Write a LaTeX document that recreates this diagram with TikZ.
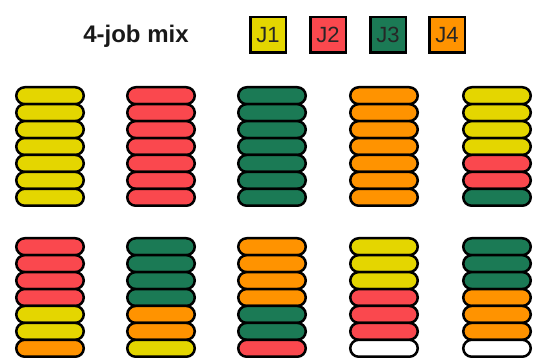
\documentclass[tikz,border=0pt]{standalone}
\usepackage{fontspec}
\setmainfont{Liberation Sans}
\usetikzlibrary{shapes.misc}
\definecolor{jy}{RGB}{228,214,0}
\definecolor{jr}{RGB}{250,72,78}
\definecolor{jg}{RGB}{27,122,85}
\definecolor{jo}{RGB}{255,147,0}
\definecolor{jw}{RGB}{255,255,255}
\newcommand\pillstack[4]{%
  \foreach \cl [count=\i] in {#4} {\node[pill,fill=\cl] (#1-\i) at (#2,{#3+16.93*(\i-1)}) {};}}
\begin{document}
\begin{tikzpicture}[x=1pt,y=-1pt,
  pill/.style={rounded rectangle, draw=black, line width=2.5pt, minimum width=67.5pt, minimum height=16.93pt, inner sep=0pt},
  legbox/.style={draw=black, line width=2.5pt, minimum size=35.5pt, inner sep=0pt, text=black!85, font=\fontsize{22}{24}\selectfont},
  title/.style={font=\bfseries\fontsize{24}{26}\selectfont, text=black!90}]
\useasboundingbox (0,0) rectangle (534,358);
\node[title] (title) at (136,36) {4-job mix};
\node[legbox, fill=jy] (l1) at (268,35) {J1};
\node[legbox, fill=jr] (l2) at (328,35) {J2};
\node[legbox, fill=jg] (l3) at (388,35) {J3};
\node[legbox, fill=jo] (l4) at (447,35) {J4};
% top row
\pillstack{a}{50}{95.7}{jy,jy,jy,jy,jy,jy,jy}
\pillstack{b}{161}{95.7}{jr,jr,jr,jr,jr,jr,jr}
\pillstack{c}{272}{95.7}{jg,jg,jg,jg,jg,jg,jg}
\pillstack{d}{384}{95.7}{jo,jo,jo,jo,jo,jo,jo}
\pillstack{e}{497}{95.7}{jy,jy,jy,jy,jr,jr,jg}
% bottom row
\pillstack{f}{50}{246.7}{jr,jr,jr,jr,jy,jy,jo}
\pillstack{g}{161}{246.7}{jg,jg,jg,jg,jo,jo,jy}
\pillstack{h}{272}{246.7}{jo,jo,jo,jo,jg,jg,jr}
\pillstack{m}{384}{246.7}{jy,jy,jy,jr,jr,jr,jw}
\pillstack{n}{497}{246.7}{jg,jg,jg,jo,jo,jo,jw}
\end{tikzpicture}
\end{document}
